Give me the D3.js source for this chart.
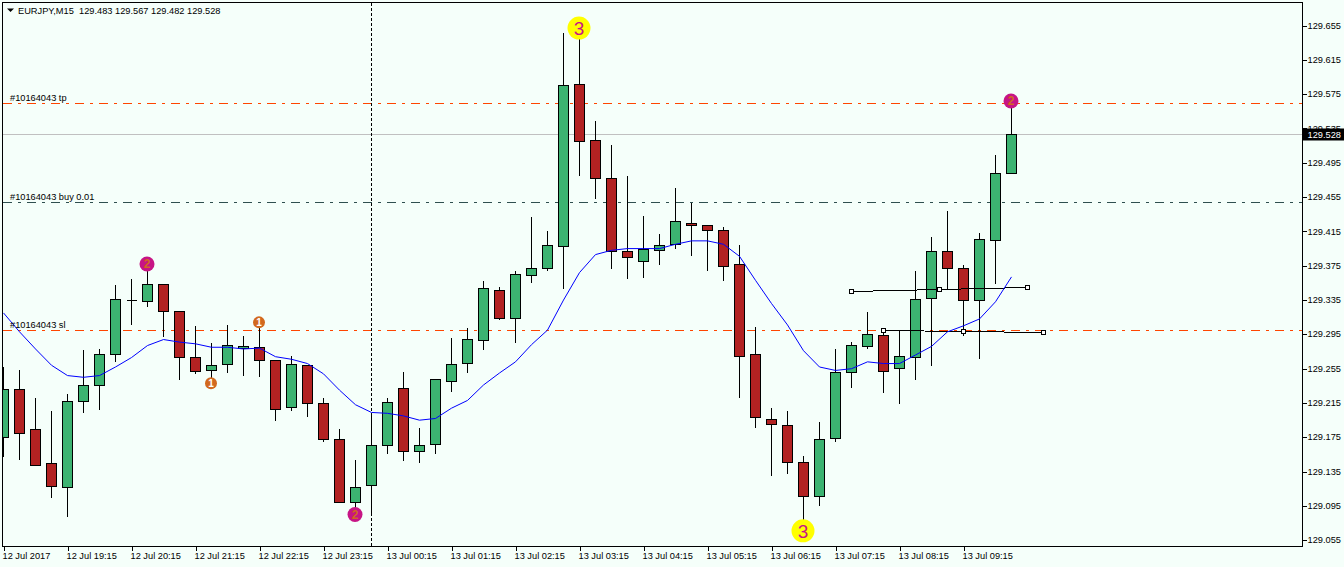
<!DOCTYPE html>
<html><head><meta charset="utf-8">
<script src="https://cdn.jsdelivr.net/npm/d3@7"></script>
<style>html,body{margin:0;padding:0;background:#f5fffa;overflow:hidden}svg{display:block}text{font-family:"Liberation Sans",sans-serif;font-size:9.25px;fill:#000}</style>
</head><body><svg id="c" width="1344" height="567"></svg>
<script>
const opens=[129.175,129.231,129.184,129.144,129.117,129.217,129.235,129.271,129.335,129.333,129.353,129.322,129.268,129.253,129.260,129.279,129.280,129.264,129.210,129.259,129.214,129.173,129.099,129.119,129.166,129.232,129.159,129.167,129.240,129.261,129.288,129.346,129.314,129.364,129.372,129.398,129.586,129.521,129.477,129.392,129.380,129.393,129.400,129.424,129.422,129.416,129.376,129.271,129.196,129.189,129.146,129.106,129.174,129.250,129.281,129.294,129.255,129.268,129.337,129.392,129.372,129.335,129.405,129.483];
const highs=[129.258,129.254,129.221,129.206,129.226,129.277,129.279,129.353,129.360,129.372,129.353,129.322,129.305,129.285,129.307,129.294,129.308,129.266,129.270,129.260,129.222,129.185,129.149,129.203,129.221,129.252,129.186,129.243,129.291,129.303,129.358,129.351,129.370,129.432,129.416,129.647,129.652,129.544,129.516,129.480,129.434,129.413,129.466,129.449,129.422,129.421,129.400,129.304,129.210,129.206,129.154,129.193,129.279,129.287,129.322,129.300,129.300,129.369,129.409,129.439,129.376,129.414,129.505,129.567];
const lows=[129.153,129.149,129.142,129.105,129.083,129.204,129.208,129.263,129.306,129.328,129.292,129.242,129.249,129.240,129.251,129.247,129.246,129.195,129.206,129.199,129.170,129.099,129.090,129.085,129.156,129.148,129.146,129.156,129.229,129.250,129.277,129.312,129.286,129.355,129.370,129.349,129.480,129.453,129.372,129.360,129.361,129.376,129.395,129.387,129.369,129.358,129.221,129.187,129.130,129.133,129.078,129.095,129.170,129.233,129.278,129.227,129.215,129.242,129.259,129.348,129.294,129.267,129.354,129.482];
const closes=[129.231,129.180,129.142,129.118,129.217,129.235,129.271,129.336,129.335,129.353,129.322,129.268,129.252,129.259,129.282,129.281,129.265,129.207,129.260,129.215,129.172,129.099,129.116,129.166,129.216,129.158,129.165,129.242,129.260,129.289,129.348,129.314,129.365,129.372,129.399,129.585,129.520,129.477,129.392,129.385,129.394,129.399,129.426,129.422,129.416,129.374,129.269,129.198,129.190,129.146,129.106,129.173,129.250,129.282,129.295,129.252,129.269,129.336,129.392,129.372,129.335,129.406,129.482,129.528];
const movingAverage=[129.320,129.298,129.278,129.259,129.247,129.245,129.247,129.257,129.268,129.282,129.289,129.286,129.284,129.280,129.280,129.278,129.279,129.269,129.266,129.261,129.249,129.230,129.213,129.204,129.203,129.200,129.195,129.197,129.209,129.218,129.236,129.250,129.263,129.283,129.300,129.335,129.367,129.388,129.393,129.395,129.395,129.395,129.400,129.404,129.404,129.400,129.386,129.358,129.331,129.306,129.276,129.257,129.253,129.255,129.263,129.261,129.261,129.271,129.281,129.298,129.305,129.313,129.333,129.362];
const priceTicks=[129.655,129.615,129.575,129.535,129.495,129.455,129.415,129.375,129.335,129.295,129.255,129.215,129.175,129.135,129.095,129.055];
const timeLabels=["12 Jul 2017","12 Jul 19:15","12 Jul 20:15","12 Jul 21:15","12 Jul 22:15","12 Jul 23:15","13 Jul 00:15","13 Jul 01:15","13 Jul 02:15","13 Jul 03:15","13 Jul 04:15","13 Jul 05:15","13 Jul 06:15","13 Jul 07:15","13 Jul 08:15","13 Jul 09:15"];
const levels=[["#10164043 tp",129.564,"#ff4500"],["#10164043 buy 0.01",129.449,"#2f4f4f"],["#10164043 sl",129.300,"#ff4500"]];
const bid=129.528;
const trendLines=[[53,129.345,64,129.350],[55,129.300,65,129.297]];
const markers=[[36,129.652,"3"],[50,129.066,"3"],[9,129.377,"2"],[22,129.085,"2"],[63,129.567,"2"],[13,129.238,"1"],[16,129.309,"1"]];
const markerStyle={"3":{r:11.5,fill:"#ffff00",text:"#c71585",size:19,weight:"normal"},"2":{r:7.5,fill:"#c71585",text:"#d2691e",size:12,weight:"bold"},"1":{r:6,fill:"#d2691e",text:"#ffffff",size:10,weight:"bold"}};
const chartTitle="EURJPY,M15  129.483 129.567 129.482 129.528";
const separatorIndex=23;

const W=1344,H=567,frameL=2.5,frameT=2.5,frameR=1302.5,frameB=546.5;
const svg=d3.select("#c");
const x=d3.scaleLinear().domain([0,64]).range([3.5,1027.5]);
const y=d3.scaleLinear().domain([129,129.655]).range([587.5,25.5]);
const py=v=>Math.round(y(v)-.5)+.5;
svg.append("defs").append("clipPath").attr("id","p").append("rect").attr("x",3).attr("y",3).attr("width",frameR-3).attr("height",frameB-3);
const g=svg.append("g").attr("clip-path","url(#p)").attr("shape-rendering","crispEdges");
const dash="9,6,3,6";
g.selectAll(".lvl").data(levels).join("line").attr("class","lvl").attr("x1",3).attr("x2",frameR).attr("y1",d=>py(d[1])).attr("y2",d=>py(d[1])).attr("stroke",d=>d[2]).attr("stroke-dasharray",dash);
g.append("line").attr("x1",3).attr("x2",frameR).attr("y1",py(bid)).attr("y2",py(bid)).attr("stroke","#c0c0c0");
g.append("line").attr("x1",x(separatorIndex)).attr("x2",x(separatorIndex)).attr("y1",3).attr("y2",frameB).attr("stroke","#000").attr("stroke-dasharray","3,2");
const idx=d3.range(opens.length);
g.selectAll(".w").data(idx).join("line").attr("class","w").attr("x1",i=>x(i)).attr("x2",i=>x(i)).attr("y1",i=>py(highs[i])).attr("y2",i=>py(lows[i])).attr("stroke","#000");
g.selectAll(".b").data(idx).join("path").attr("class","b").attr("d",i=>{const a=py(Math.max(opens[i],closes[i])),b=py(Math.min(opens[i],closes[i]));return `M${x(i)-5},${a}H${x(i)+5}V${b}H${x(i)-5}Z`;})
 .attr("fill",i=>closes[i]>=opens[i]?"#3cb371":"#b22222").attr("stroke","#000");
g.selectAll(".tl").data(trendLines).join("line").attr("class","tl").attr("x1",d=>x(d[0])).attr("x2",d=>x(d[2])).attr("y1",d=>py(d[1])).attr("y2",d=>py(d[3])).attr("stroke","#000");
const lineGen=d3.line().x((d,i)=>x(i)).y(d=>y(d));
svg.append("path").attr("clip-path","url(#p)").attr("d",lineGen(movingAverage)).attr("fill","none").attr("stroke","#0000ff").attr("stroke-width",1);
const handles=trendLines.flatMap(d=>[[d[0],d[1]],[(d[0]+d[2])/2,(d[1]+d[3])/2],[d[2],d[3]]]);
g.selectAll(".h").data(handles).join("rect").attr("class","h").attr("x",d=>x(d[0])-2).attr("y",d=>py(d[1])-2).attr("width",4).attr("height",4).attr("fill","#fff").attr("stroke","#000");
const mg=svg.append("g").selectAll("g").data(markers).join("g").attr("transform",d=>`translate(${x(d[0])-.5},${y(d[1])})`);
mg.append("circle").attr("r",d=>markerStyle[d[2]].r).attr("fill",d=>markerStyle[d[2]].fill);
mg.append("text").text(d=>d[2]).attr("text-anchor","middle").attr("dy","0.36em").style("font-size",d=>markerStyle[d[2]].size+"px").style("font-weight",d=>markerStyle[d[2]].weight).style("fill",d=>markerStyle[d[2]].text);
svg.selectAll(".ll").data(levels).join("text").attr("class","ll").attr("x",10).attr("y",d=>y(d[1])-2.5).text(d=>d[0]);
svg.append("path").attr("d",`M${frameL},${frameB}V${frameT}H${frameR}V${frameB}H${frameL}`).attr("fill","none").attr("stroke","#000").attr("shape-rendering","crispEdges");
svg.append("path").attr("d","M7,8.5H14L10.5,12Z").attr("fill","#000");
svg.append("text").attr("x",18).attr("y",13.5).style("white-space","pre").text(chartTitle);
const ya=d3.axisRight(y).tickValues(priceTicks).tickSize(4).tickFormat(d3.format(".3f"));
const yg=svg.append("g").attr("transform",`translate(${frameR},0)`).call(ya);
yg.select(".domain").remove();yg.selectAll("line").attr("stroke","#000").attr("shape-rendering","crispEdges");
yg.selectAll("text").attr("x",5).attr("dy","0.28em");
yg.attr("font-size",null).attr("font-family",null);
const xa=d3.axisBottom(x).tickValues(timeLabels.map((d,i)=>i*4)).tickSize(4).tickFormat((d,i)=>timeLabels[i]);
const xg=svg.append("g").attr("transform",`translate(0,${frameB})`).call(xa);
xg.select(".domain").remove();xg.selectAll("line").attr("stroke","#000").attr("shape-rendering","crispEdges");
xg.selectAll("text").attr("text-anchor","start").attr("x",-1.5).attr("y",5.5).attr("dy","0.71em");
xg.attr("font-size",null).attr("font-family",null);
const tag=svg.append("g").attr("transform",`translate(${frameR},${py(bid)})`);
tag.append("rect").attr("x",0).attr("y",-6).attr("width",W-frameR).attr("height",12).attr("fill","#000");
tag.append("text").attr("x",5).attr("dy","0.34em").style("fill","#fff").text(bid.toFixed(3));
</script></body></html>
